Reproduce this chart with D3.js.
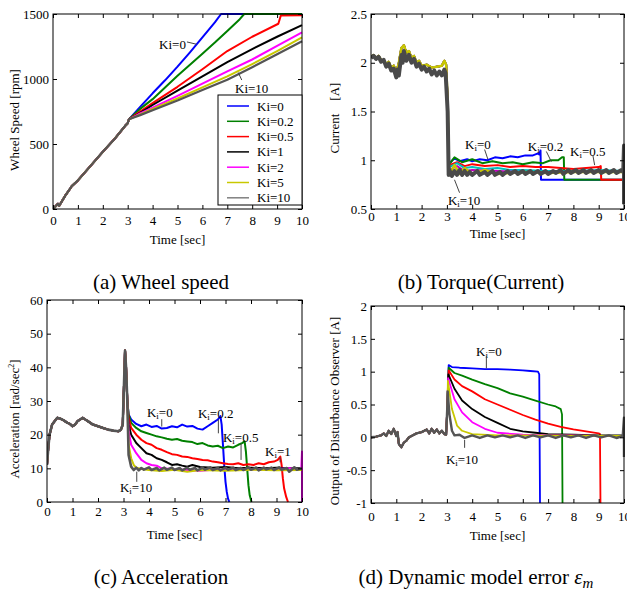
<!DOCTYPE html>
<html>
<head>
<meta charset="utf-8">
<script src="https://cdn.jsdelivr.net/npm/d3@7"></script>
<style>
  body { margin: 0; background: #fff; }
  svg text { font-family: "Liberation Serif", "Times New Roman", serif; fill: #000; }
</style>
</head>
<body>
<svg id="fig" width="627" height="592"></svg>
<script>
// ---- shared ----
const timeTicks = [0, 1, 2, 3, 4, 5, 6, 7, 8, 9, 10];
const kiValues = ["0", "0.2", "0.5", "1", "2", "5", "10"];
const kiColors = ["#0000ff", "#008000", "#ff0000", "#000000", "#ff00ff", "#c8c800", "#555555"];
const legendColors = ["#0000ff", "#008000", "#ff0000", "#000000", "#ff00ff", "#c8c800", "#808080"];
const currentColors = ["#0000ff", "#008000", "#ff0000", "#00bfbf", "#bf00bf", "#c8c800", "#4a4a4a"];

// ---- (a) wheel speed [rpm] ----
const speedTicks = [0, 500, 1000, 1500];
const speedStart = [[0, 0], [0.2, 40], [0.25, 25], [0.5, 105], [0.7, 160], [0.75, 175], [1, 220], [1.5, 330], [2, 440], [2.5, 545], [2.9, 640], [3.0, 660], [3.05, 690]];
const speedKi0 = [[3.5, 785], [4, 890], [4.5, 990], [5, 1095], [5.5, 1205], [6, 1320], [6.5, 1435], [6.75, 1500], [10, 1500]];
const speedKi02 = [[3.5, 770], [4, 845], [4.5, 935], [5, 1025], [5.5, 1110], [6, 1195], [6.5, 1280], [7, 1370], [7.5, 1460], [7.68, 1500], [10, 1500]];
const speedKi05 = [[3.5, 750], [4, 815], [5, 940], [6, 1075], [7, 1215], [8, 1325], [9.05, 1425], [9.15, 1488], [10, 1490]];
const speedKi1 = [[3.5, 740], [4, 800], [5, 910], [6, 1020], [7, 1130], [8, 1230], [9, 1325], [10, 1415]];
const speedKi2 = [[3.5, 735], [4, 780], [5, 870], [6, 965], [7, 1058], [8, 1150], [9, 1255], [10, 1359]];
const speedKi5 = [[3.5, 728], [4, 770], [5, 850], [6, 935], [7, 1020], [8, 1115], [9, 1215], [10, 1320]];
const speedKi10 = [[3.5, 722], [4, 760], [5, 835], [6, 915], [7, 995], [8, 1090], [9, 1190], [10, 1290]];

// ---- (b) current [A] ----
const currentTicks = [0.5, 1, 1.5, 2, 2.5];
const currentStart = [[0, 2.06], [0.1, 2.08], [0.2, 2.05], [0.3, 2.07], [0.4, 2.03], [0.5, 2.02], [0.6, 1.99], [0.7, 2.01], [0.8, 1.95], [0.9, 1.97], [1.0, 1.9], [1.1, 2.0], [1.2, 2.15], [1.3, 2.18], [1.4, 2.1], [1.5, 2.12], [1.6, 2.05], [1.7, 2.07], [1.8, 2.0], [1.9, 2.02], [2.0, 1.97], [2.2, 1.98], [2.4, 1.95], [2.6, 1.96], [2.8, 1.97], [2.9, 2.02], [2.97, 1.98], [3.03, 1.6], [3.07, 1.0]];
const currentStartKi10 = [[0, 2.05], [0.1, 2.07], [0.2, 2.04], [0.3, 2.06], [0.4, 2.01], [0.5, 2.03], [0.6, 1.96], [0.7, 1.99], [0.8, 1.92], [0.9, 1.94], [1.0, 1.85], [1.05, 1.93], [1.1, 1.87], [1.2, 2.08], [1.25, 2.0], [1.3, 2.12], [1.4, 2.02], [1.5, 2.08], [1.6, 2.0], [1.7, 2.04], [1.8, 1.96], [1.9, 1.99], [2.0, 1.93], [2.1, 1.96], [2.2, 1.91], [2.3, 1.94], [2.4, 1.88], [2.5, 1.92], [2.6, 1.87], [2.7, 1.91], [2.8, 1.87], [2.9, 1.93], [2.95, 1.89], [3.03, 1.5], [3.07, 0.85]];
const currentKi0 = [[3.1, 0.97], [3.3, 1.02], [3.5, 0.99], [3.8, 1.01], [4.0, 0.99], [4.3, 1.01], [4.6, 1.0], [4.9, 1.03], [5.2, 1.02], [5.5, 1.04], [5.8, 1.03], [6.1, 1.05], [6.4, 1.05], [6.6, 1.07], [6.65, 1.06], [6.7, 1.1], [6.72, 0.8], [10, 0.8]];
const currentKi02 = [[3.1, 0.96], [3.3, 1.03], [3.6, 0.98], [4, 1.01], [4.4, 0.97], [4.8, 0.99], [5.2, 0.97], [5.6, 0.98], [6.0, 0.96], [6.4, 0.98], [6.8, 0.97], [7.1, 1.0], [7.4, 1.0], [7.55, 1.03], [7.62, 1.03], [7.64, 0.8], [10, 0.8]];
const currentKi05 = [[3.1, 0.95], [3.4, 0.98], [3.7, 0.94], [4, 0.96], [4.5, 0.94], [5, 0.95], [5.5, 0.93], [6, 0.94], [6.5, 0.93], [7, 0.93], [7.5, 0.92], [8, 0.91], [8.5, 0.92], [9, 0.93], [9.08, 0.94], [9.1, 0.8], [10, 0.8]];
const currentKi1 = [[3.1, 0.93], [3.4, 0.97], [3.7, 0.92], [4, 0.93], [4.5, 0.91], [5, 0.92], [5.5, 0.9], [6, 0.9], [7, 0.89], [8, 0.89], [9, 0.9], [10, 0.89]];
const currentKi2 = [[3.1, 0.9], [3.4, 0.94], [3.7, 0.89], [4, 0.9], [5, 0.89], [6, 0.88], [7, 0.88], [8, 0.88], [9, 0.89], [10, 0.88]];
const currentKi5 = [[3.1, 0.85], [3.3, 0.95], [3.5, 0.86], [3.7, 0.92], [4, 0.86], [4.5, 0.9], [5, 0.86], [6, 0.88], [7, 0.87], [8, 0.88], [9, 0.88], [10, 0.88]];
const currentKi10 = [[3.1, 0.9], [3.2, 0.84], [3.3, 0.89], [3.4, 0.85], [3.5, 0.9], [3.6, 0.85], [3.7, 0.89], [3.8, 0.85], [3.9, 0.88], [4.0, 0.85], [4.2, 0.89], [4.3, 0.85], [4.5, 0.88], [4.6, 0.85], [4.8, 0.89], [4.9, 0.85], [5.1, 0.88], [5.2, 0.85], [5.4, 0.89], [5.5, 0.86], [5.7, 0.89], [5.8, 0.86], [6.0, 0.89], [6.1, 0.86], [6.3, 0.89], [6.4, 0.86], [6.6, 0.89], [6.7, 0.86], [6.9, 0.89], [7.0, 0.86], [7.2, 0.89], [7.3, 0.87], [7.5, 0.9], [7.6, 0.86], [7.8, 0.9], [7.9, 0.87], [8.1, 0.9], [8.2, 0.87], [8.4, 0.9], [8.5, 0.87], [8.7, 0.9], [8.8, 0.87], [9.0, 0.9], [9.1, 0.87], [9.3, 0.9], [9.4, 0.87], [9.6, 0.9], [9.7, 0.87], [9.9, 0.9], [9.97, 0.88], [10, 1.15], [10, 0.55]];

// ---- (c) acceleration [rad/sec^2] ----
const accelTicks = [0, 10, 20, 30, 40, 50, 60];
const accelStart = [[0, 11], [0.05, 16], [0.1, 20], [0.2, 23], [0.3, 24], [0.4, 25], [0.5, 24.8], [0.6, 24.5], [0.7, 24], [0.8, 23.5], [0.9, 23.2], [1.0, 22.5], [1.1, 23], [1.2, 24], [1.3, 24.5], [1.4, 25], [1.5, 24.5], [1.6, 24], [1.7, 23.5], [1.8, 23], [2.0, 22.5], [2.2, 22], [2.4, 21.5], [2.6, 21.2], [2.8, 21], [2.9, 21.5], [2.97, 23], [3.02, 35], [3.06, 45], [3.1, 40], [3.15, 30]];
const accelKi0 = [[3.2, 26], [3.3, 24.5], [3.5, 23.2], [3.7, 22.5], [3.9, 23], [4.1, 22.3], [4.3, 22.6], [4.5, 21.8], [4.7, 22], [4.9, 22.5], [5.1, 22.2], [5.3, 23], [5.5, 22.4], [5.7, 22.6], [5.9, 21.8], [6.1, 21.5], [6.3, 22.5], [6.5, 23.5], [6.7, 24.5], [6.8, 25.5], [6.85, 23], [6.9, 17], [6.95, 11], [7.0, 6], [7.05, 3], [7.1, 1], [7.15, 0]];
const accelKi02 = [[3.2, 26], [3.3, 23.5], [3.5, 22], [3.7, 21], [3.9, 20.5], [4.1, 20], [4.3, 19.5], [4.5, 19.2], [4.7, 18.8], [4.9, 18.5], [5.1, 18.7], [5.3, 18.2], [5.5, 18], [5.7, 17.8], [5.9, 17.2], [6.1, 17.5], [6.3, 16.8], [6.5, 16.5], [6.7, 16.7], [6.9, 16], [7.1, 16.5], [7.3, 16.2], [7.5, 17], [7.65, 17.5], [7.75, 18], [7.8, 15], [7.85, 10], [7.9, 5], [7.95, 2], [8.02, 0]];
const accelKi05 = [[3.2, 25], [3.3, 22], [3.5, 20], [3.7, 18.5], [3.9, 17.5], [4.1, 17], [4.3, 16], [4.5, 15.5], [4.7, 14.8], [4.9, 14.2], [5.1, 14], [5.3, 13.5], [5.5, 13.4], [5.7, 13], [5.9, 12.8], [6.1, 12.5], [6.3, 12.4], [6.5, 12], [6.7, 11.8], [6.9, 11.5], [7.1, 11.3], [7.3, 11.2], [7.5, 11.5], [7.7, 11], [7.9, 11.2], [8.1, 11], [8.3, 11.5], [8.5, 11.2], [8.7, 11.8], [8.9, 12], [9.05, 12.5], [9.15, 13.5], [9.2, 11], [9.25, 7], [9.3, 4], [9.38, 1.5], [9.45, 0]];
const accelKi1 = [[3.2, 23], [3.3, 20], [3.5, 17.5], [3.7, 16], [3.9, 14.5], [4.1, 14], [4.3, 13], [4.5, 12.5], [4.7, 11.8], [4.9, 11], [5.1, 11.2], [5.3, 10.8], [5.5, 10.5], [5.7, 11], [6, 10.4], [6.5, 10.2], [7, 10.4], [7.5, 10], [8, 10.2], [8.5, 10], [9, 10.2], [9.5, 10], [10, 10]];
const accelKi2 = [[3.2, 21], [3.3, 17], [3.5, 14.5], [3.7, 12.5], [3.9, 11.5], [4.1, 11], [4.3, 10.8], [4.5, 10], [5, 9.7], [5.5, 9.5], [6, 9.3], [6.5, 9.6], [7, 9.5], [8, 9.7], [9, 9.8], [9.5, 10], [9.97, 9.5], [10, 15], [10, 0]];
const accelKi5 = [[3.2, 17], [3.3, 13], [3.4, 11], [3.5, 10.2], [3.7, 9.8], [4, 9.5], [4.5, 9.2], [5, 9.6], [5.5, 9], [6, 9.5], [7, 9.3], [8, 9.6], [9, 9.4], [10, 9.5]];
const accelKi10 = [[3.2, 14], [3.3, 10.5], [3.4, 9.5], [3.5, 10.2], [3.6, 9.4], [3.7, 10.1], [3.8, 9.6], [4.0, 10.3], [4.1, 9.5], [4.3, 10.1], [4.4, 9.4], [4.6, 10.2], [4.7, 9.6], [4.9, 10.2], [5.0, 9.5], [5.2, 10.1], [5.3, 9.4], [5.5, 10.2], [5.6, 9.6], [5.8, 10.1], [5.9, 9.4], [6.1, 10.2], [6.2, 9.6], [6.4, 10.3], [6.5, 9.5], [6.7, 10.1], [6.8, 9.4], [7.0, 10.2], [7.1, 9.6], [7.3, 10.2], [7.4, 9.5], [7.6, 10.1], [7.7, 9.5], [7.9, 10.3], [8.0, 9.6], [8.2, 10.2], [8.3, 9.4], [8.5, 10.2], [8.6, 9.7], [8.8, 10.2], [8.9, 9.5], [9.1, 10.3], [9.2, 9.6], [9.4, 10.1], [9.5, 9.0], [9.7, 10.3], [9.8, 9.6], [10, 10]];

// ---- (d) disturbance observer output [A] ----
const dobTicks = [-1, -0.5, 0, 0.5, 1, 1.5, 2];
const dobStart = [[0, 0], [0.2, 0.01], [0.4, 0.03], [0.5, 0.06], [0.6, 0.02], [0.7, 0.1], [0.8, 0.05], [0.9, 0.13], [1.0, 0.02], [1.05, 0.08], [1.1, -0.1], [1.2, -0.15], [1.3, -0.08], [1.4, -0.05], [1.5, 0], [1.6, 0.02], [1.8, 0.06], [2.0, 0.08], [2.2, 0.12], [2.3, 0.06], [2.4, 0.13], [2.5, 0.07], [2.6, 0.12], [2.7, 0.06], [2.8, 0.1], [2.9, 0.05], [2.97, 0.04], [3.02, 0.5]];
const dobKi0 = [[3.07, 1.1], [3.2, 1.07], [3.5, 1.06], [4, 1.05], [4.5, 1.04], [5, 1.04], [5.5, 1.03], [6, 1.02], [6.3, 1.01], [6.6, 1.0], [6.65, 0.96], [6.68, -1]];
const dobKi02 = [[3.07, 1.06], [3.3, 0.98], [3.6, 0.94], [4, 0.88], [4.5, 0.81], [5, 0.75], [5.5, 0.67], [6, 0.62], [6.5, 0.56], [7, 0.5], [7.3, 0.47], [7.5, 0.43], [7.55, 0.35], [7.57, -1]];
const dobKi05 = [[3.07, 1.02], [3.3, 0.88], [3.6, 0.78], [4, 0.7], [4.5, 0.58], [5, 0.5], [5.5, 0.42], [6, 0.34], [6.5, 0.27], [7, 0.21], [7.5, 0.16], [8, 0.12], [8.5, 0.09], [9, 0.06], [9.05, 0.05], [9.07, -1]];
const dobKi1 = [[3.06, 0.96], [3.3, 0.74], [3.6, 0.56], [4, 0.43], [4.5, 0.31], [5, 0.22], [5.5, 0.13], [6, 0.09], [6.5, 0.07], [7, 0.05], [8, 0.04], [9, 0.03], [10, 0.03]];
const dobKi2 = [[3.05, 0.9], [3.3, 0.58], [3.6, 0.38], [4, 0.23], [4.5, 0.13], [5, 0.07], [6, 0.04], [7, 0.03], [8, 0.03], [9, 0.02], [10, 0.02]];
const dobKi5 = [[3.04, 0.86], [3.2, 0.43], [3.4, 0.18], [3.6, 0.1], [4, 0.05], [5, 0.03], [10, 0.02]];
const dobKi10 = [[3.03, 0.7], [3.1, 0.35], [3.2, 0.1], [3.3, 0.03], [3.5, 0.04], [3.7, -0.01], [4, 0.03], [4.3, -0.01], [4.6, 0.03], [4.9, 0], [5.2, 0.03], [5.5, 0], [5.8, 0.03], [6.1, -0.01], [6.4, 0.03], [6.7, 0], [7, 0.03], [7.3, -0.01], [7.6, 0.03], [7.9, 0], [8.2, 0.03], [8.5, -0.01], [8.8, 0.03], [9.1, 0], [9.4, 0.03], [9.7, -0.01], [9.95, 0.02], [10, 0.3], [10, -0.3]];

const svg = d3.select("#fig");

function withStart(start, tails) {
    return tails.map(t => start.concat(t));
}

function kiText(sel, value, sub) {
    if (!sub) {
        sel.text("Ki=" + value);
        return;
    }
    sel.append("tspan").text("K");
    sel.append("tspan").attr("font-size", 9).attr("dy", 2).text("i");
    sel.append("tspan").attr("dy", -2).text("=" + value);
}

function drawPanel(p) {
    const x = d3.scaleLinear().domain([0, 10]).range([p.left, p.right]);
    const y = d3.scaleLinear().domain([p.yTicks[0], p.yTicks[p.yTicks.length - 1]]).range([p.bottom, p.top]);
    const g = svg.append("g");

    svg.append("clipPath").attr("id", "clip-" + p.id)
        .append("rect")
        .attr("x", p.left).attr("y", p.top - 1)
        .attr("width", p.right - p.left + 1).attr("height", p.bottom - p.top + 2);

    const line = d3.line().x(d => x(d[0])).y(d => y(d[1]));
    g.append("g")
        .attr("clip-path", "url(#clip-" + p.id + ")")
        .selectAll("path")
        .data(p.series)
        .join("path")
        .attr("d", line)
        .attr("fill", "none")
        .attr("stroke", (d, i) => p.colors[i])
        .attr("stroke-width", (d, i) => p.widths[i])
        .attr("stroke-linejoin", "round");

    // ticks point inwards on all four sides
    const fmt = d => String(d);
    g.append("g").attr("transform", "translate(0," + p.bottom + ")")
        .call(d3.axisBottom(x).tickValues(timeTicks).tickSize(-4).tickSizeOuter(0).tickPadding(p.xPad).tickFormat(fmt));
    g.append("g").attr("transform", "translate(0," + p.top + ")")
        .call(d3.axisTop(x).tickValues(timeTicks).tickSize(-4).tickSizeOuter(0).tickFormat(""));
    g.append("g").attr("transform", "translate(" + p.left + ",0)")
        .call(d3.axisLeft(y).tickValues(p.yTicks).tickSize(-4).tickSizeOuter(0).tickPadding(4).tickFormat(fmt));
    g.append("g").attr("transform", "translate(" + p.right + ",0)")
        .call(d3.axisRight(y).tickValues(p.yTicks).tickSize(-4).tickSizeOuter(0).tickFormat(""));
    g.selectAll(".domain").remove();
    g.selectAll(".tick text").attr("font-size", 13).attr("font-family", null);
    g.selectAll(".tick line").attr("stroke", "#000");

    g.append("rect")
        .attr("x", p.left).attr("y", p.top)
        .attr("width", p.right - p.left).attr("height", p.bottom - p.top)
        .attr("fill", "none").attr("stroke", "#000").attr("stroke-width", 1);

    g.append("text")
        .attr("x", (p.left + p.right) / 2).attr("y", p.xLabelY)
        .attr("text-anchor", "middle").attr("font-size", 13)
        .text("Time [sec]");

    const yl = g.append("text")
        .attr("transform", "translate(" + p.yLabelX + "," + p.yLabelY + ") rotate(-90)")
        .attr("text-anchor", "middle").attr("font-size", 13)
        .attr("xml:space", "preserve");
    p.yLabel(yl);

    // Ki annotations with leader lines
    p.notes.forEach(n => {
        kiText(g.append("text").attr("x", x(n.t)).attr("y", y(n.v)).attr("font-size", 13), n.ki, p.sub);
        g.append("line")
            .attr("x1", x(n.lead[0][0])).attr("y1", y(n.lead[0][1]))
            .attr("x2", x(n.lead[1][0])).attr("y2", y(n.lead[1][1]))
            .attr("stroke", "#444").attr("stroke-width", 1);
    });

    g.append("text")
        .attr("x", p.capX).attr("y", p.capY)
        .attr("text-anchor", "middle").attr("font-size", 21)
        .call(p.caption);

    return { x: x, y: y, g: g };
}

// (a)
const panelA = drawPanel({
    id: "a", left: 53, right: 302, top: 14, bottom: 209,
    yTicks: speedTicks, xPad: 7, xLabelY: 244,
    yLabelX: 19, yLabelY: 120,
    yLabel: t => t.text("Wheel Speed [rpm]"),
    colors: kiColors, widths: [2, 2, 2, 2, 2, 2, 2.2], sub: false,
    series: withStart(speedStart, [speedKi0, speedKi02, speedKi05, speedKi1, speedKi2, speedKi5, speedKi10]),
    notes: [
        { ki: "0", t: 4.26, v: 1230, lead: [[5.38, 1285], [5.77, 1267]] },
        { ki: "10", t: 7.31, v: 890, lead: [[7.58, 992], [7.44, 1050]] }
    ],
    capX: 161, capY: 289,
    caption: t => t.text("(a) Wheel speed")
});

// legend of (a)
const legend = panelA.g.append("g").attr("transform", "translate(218,95)");
legend.append("rect").attr("width", 84).attr("height", 110)
    .attr("fill", "#fff").attr("stroke", "#000");
kiValues.forEach((k, i) => {
    const row = legend.append("g").attr("transform", "translate(0," + (11 + i * 15.3) + ")");
    row.append("line").attr("x1", 9).attr("x2", 31).attr("stroke", legendColors[i]).attr("stroke-width", 1.5);
    row.append("text").attr("x", 39).attr("dy", "0.35em").attr("font-size", 13).text("Ki=" + k);
});

// (b)
const currentTails = [currentKi0, currentKi02, currentKi05, currentKi1, currentKi2, currentKi5];
drawPanel({
    id: "b", left: 371, right: 624, top: 14, bottom: 209,
    yTicks: currentTicks, xPad: 3, xLabelY: 238,
    yLabelX: 339, yLabelY: 118,
    yLabel: t => t.text("Current    [A]"),
    colors: currentColors, widths: [2, 2, 2, 2, 2, 2.5, 4], sub: true,
    series: withStart(currentStart, currentTails).concat([currentStartKi10.concat(currentKi10)]),
    notes: [
        { ki: "0", t: 3.72, v: 1.12, lead: [[4.49, 1.11], [4.62, 1.01]] },
        { ki: "0.2", t: 6.2, v: 1.1, lead: [[6.93, 1.09], [7.13, 0.985]] },
        { ki: "0.5", t: 7.87, v: 1.04, lead: [[8.77, 1.05], [8.84, 0.95]] },
        { ki: "10", t: 3.04, v: 0.54, lead: [[3.5, 0.667], [3.3, 0.8]] }
    ],
    capX: 481, capY: 289,
    caption: t => t.text("(b) Torque(Current)")
});

// (c)
drawPanel({
    id: "c", left: 47, right: 302, top: 300, bottom: 502,
    yTicks: accelTicks, xPad: 5, xLabelY: 539,
    yLabelX: 19, yLabelY: 419,
    yLabel: t => {
        t.append("tspan").text("Acceleration [rad/sec");
        t.append("tspan").attr("font-size", 8).attr("dy", -5).text("2");
        t.append("tspan").attr("dy", 5).text("]");
    },
    colors: kiColors, widths: [2, 2, 2, 2, 2, 2, 2.6], sub: true,
    series: withStart(accelStart, [accelKi0, accelKi02, accelKi05, accelKi1, accelKi2, accelKi5, accelKi10]),
    notes: [
        { ki: "0", t: 3.92, v: 25.2, lead: [[4.5, 24.6], [4.5, 22.4]] },
        { ki: "0.2", t: 5.92, v: 24.9, lead: [[6.72, 24.5], [6.72, 20.4]] },
        { ki: "0.5", t: 6.9, v: 17.8, lead: [[7.61, 17.4], [7.61, 12.5]] },
        { ki: "1", t: 8.55, v: 13.7, lead: [[9.14, 13.3], [9.14, 11.8]] },
        { ki: "10", t: 2.86, v: 3, lead: [[3.52, 9], [3.52, 6]] }
    ],
    capX: 161, capY: 584,
    caption: t => t.text("(c) Acceleration")
});

// (d)
drawPanel({
    id: "d", left: 371, right: 624, top: 306, bottom: 503,
    yTicks: dobTicks, xPad: 9, xLabelY: 540,
    yLabelX: 339, yLabelY: 411,
    yLabel: t => t.text("Output of Disturbance Observer [A]"),
    colors: kiColors, widths: [1.8, 1.8, 1.8, 1.8, 1.8, 1.8, 2.4], sub: true,
    series: withStart(dobStart, [dobKi0, dobKi02, dobKi05, dobKi1, dobKi2, dobKi5, dobKi10]),
    notes: [
        { ki: "0", t: 4.15, v: 1.235, lead: [[4.56, 1.24], [4.56, 1.05]] },
        { ki: "10", t: 2.96, v: -0.4, lead: [[3.7, -0.04], [3.7, -0.16]] }
    ],
    capX: 476, capY: 584,
    caption: t => {
        t.append("tspan").text("(d) Dynamic model error ");
        t.append("tspan").attr("font-style", "italic").text("ε");
        t.append("tspan").attr("font-style", "italic").attr("font-size", 15).attr("dy", 4).text("m");
    }
});
</script>
</body>
</html>
